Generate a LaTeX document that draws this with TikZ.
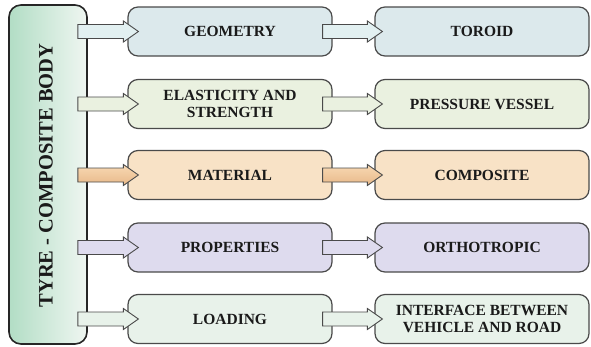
\documentclass[tikz,border=0pt]{standalone}
\usepackage{fontspec}
\setmainfont{Liberation Serif}
\usetikzlibrary{calc}
\definecolor{bordc}{HTML}{4A4A4A}
\definecolor{txtc}{HTML}{1A1A1A}
\definecolor{cA}{HTML}{DCE9EC}
\definecolor{cAa}{HTML}{E2F0F1}
\definecolor{cB}{HTML}{EAF1E0}
\definecolor{cC}{HTML}{F8E2C6}
\definecolor{cD}{HTML}{DEDBEE}
\definecolor{cE}{HTML}{E8F2EA}
\definecolor{lgreen}{HTML}{B2DDC5}
\definecolor{lwhite}{HTML}{EFF6F1}
\definecolor{arC1}{HTML}{F8D9B4}
\definecolor{arC2}{HTML}{E8B888}
\newcommand\blockarr[5]{%
  \draw[#1] let \p1=(#2.east), \p2=(#3.west) in
    (\x1-#4,\y2+7pt) -- (\x2+#5-15pt,\y2+7pt) -- (\x2+#5-15pt,\y2+10.5pt)
    -- (\x2+#5,\y2) -- (\x2+#5-15pt,\y2-10.5pt) -- (\x2+#5-15pt,\y2-7pt)
    -- (\x1-#4,\y2-7pt) -- cycle;}
\begin{document}
\begin{tikzpicture}[x=1pt,y=-1pt,
  box/.style={draw=bordc,line width=1.2pt,rounded corners=10pt,inner sep=0pt,
    minimum height=49pt,align=center,text=txtc,
    font=\fontsize{15.5}{17}\selectfont\bfseries},
  midbox/.style={box,minimum width=204pt},
  rightbox/.style={box,minimum width=214pt},
  barr/.style={draw=bordc,line width=0.9pt,line join=miter}]
\useasboundingbox (0,0) rectangle (591,346);
\node[draw=black!85,line width=1.6pt,rounded corners=12pt,minimum width=78pt,
  minimum height=339pt,left color=lgreen,right color=lwhite] (L) at (48,174.5) {};
\node[rotate=90,text=txtc,font=\fontsize{20.5}{22}\selectfont\bfseries] (Lt) at (46,175.5) {TYRE - COMPOSITE BODY};
% row 1
\node[midbox,fill=cA] (m1) at (230,31.5) {GEOMETRY};
\node[rightbox,fill=cA] (r1) at (482,31.5) {TOROID};
% row 2
\node[midbox,fill=cB] (m2) at (230,104) {ELASTICITY AND\\STRENGTH};
\node[rightbox,fill=cB] (r2) at (482,104) {PRESSURE VESSEL};
% row 3
\node[midbox,fill=cC] (m3) at (230,175) {MATERIAL};
\node[rightbox,fill=cC] (r3) at (482,175) {COMPOSITE};
% row 4
\node[midbox,fill=cD] (m4) at (230,247.5) {PROPERTIES};
\node[rightbox,fill=cD] (r4) at (482,247.5) {ORTHOTROPIC};
% row 5
\node[midbox,fill=cE] (m5) at (230,319) {LOADING};
\node[rightbox,fill=cE] (r5) at (482,319) {INTERFACE BETWEEN\\VEHICLE AND ROAD};
% arrows
\blockarr{barr,fill=cAa}{L}{m1}{10pt}{11pt}
\blockarr{barr,fill=cAa}{m1}{r1}{10pt}{8pt}
\blockarr{barr,fill=cB}{L}{m2}{10pt}{11pt}
\blockarr{barr,fill=cB}{m2}{r2}{10pt}{8pt}
\blockarr{barr,draw=black!70,top color=arC1,bottom color=arC2}{L}{m3}{10pt}{11pt}
\blockarr{barr,draw=black!70,top color=arC1,bottom color=arC2}{m3}{r3}{10pt}{8pt}
\blockarr{barr,fill=cD}{L}{m4}{10pt}{11pt}
\blockarr{barr,fill=cD}{m4}{r4}{10pt}{8pt}
\blockarr{barr,fill=cE}{L}{m5}{10pt}{11pt}
\blockarr{barr,fill=cE}{m5}{r5}{10pt}{8pt}
\end{tikzpicture}
\end{document}
